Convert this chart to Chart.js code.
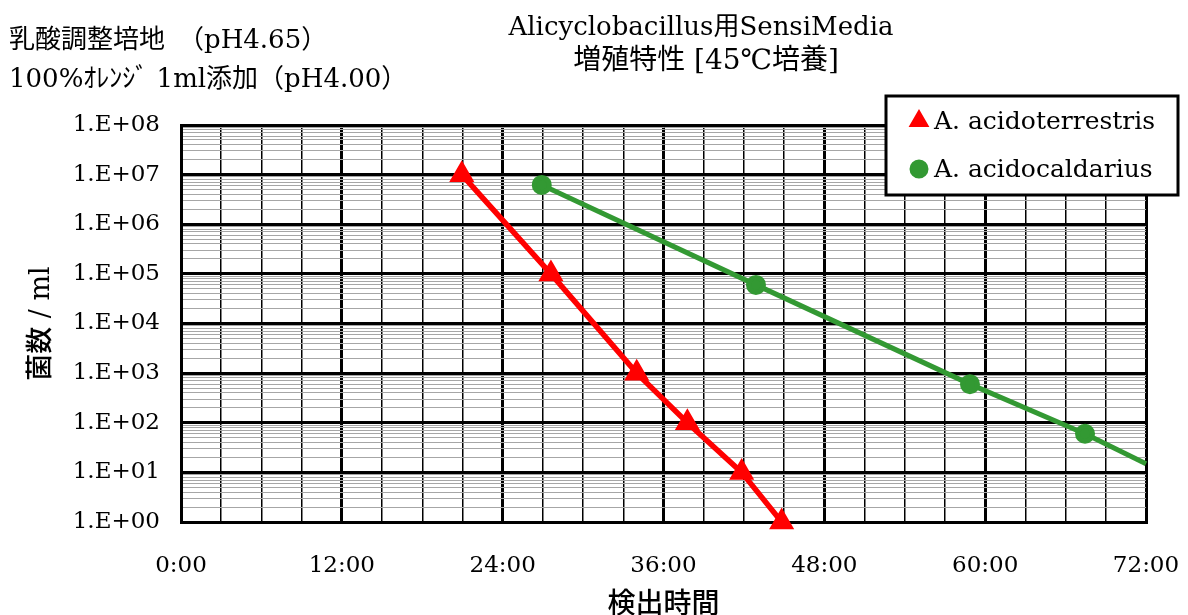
<!DOCTYPE html>
<html lang="ja">
<head>
<meta charset="utf-8">
<title>Alicyclobacillus用SensiMedia 増殖特性</title>
<script src="https://cdn.jsdelivr.net/npm/chart.js@4.4.1/dist/chart.umd.min.js"></script>
<style>
    html, body { margin: 0; padding: 0; background: #fff; }
    canvas { display: block; }
</style>
</head>
<body>
<canvas id="growthChart" width="1188" height="615"></canvas>
<script>
// Detection time (h:mm) and counts per ml
const terrestrisTimes = ['20:57', '27:36', '34:00', '37:47', '41:50', '44:49'];
const terrestrisCounts = [1e7, 1e5, 1e3, 1e2, 1e1, 1e0];

const caldariusTimes = ['26:55', '42:54', '58:52', '67:27'];
const caldariusCounts = [6.2e6, 6.0e4, 6.0e2, 6.0e1];
// green line runs on to the right edge of the plot
const caldariusLineEnd = { time: '72:00', count: 15 };

const seriesLabels = ['A. acidoterrestris', 'A. acidocaldarius'];
const xTickHours = [0, 12, 24, 36, 48, 60, 72];
const yDecades = [0, 1, 2, 3, 4, 5, 6, 7, 8];

const noteLines = ['乳酸調整培地　（pH4.65）', '100%ｵﾚﾝｼﾞ 1ml添加（pH4.00）'];
const titleLines = ['Alicyclobacillus用SensiMedia', '増殖特性 [45℃培養]'];

const SERIF = "'DejaVu Serif', 'Noto Sans CJK JP', serif";
const GOTHIC = "'Noto Sans CJK JP', sans-serif";
const RED = '#ff0000';
const GREEN = '#339933';

/**
 * Converts "h:mm" to decimal hours
 */
function toHours(text) {
    const parts = text.split(':');
    return Number(parts[0]) + Number(parts[1]) / 60;
}

function toPoints(times, counts) {
    return times.map((t, i) => ({ x: toHours(t), y: counts[i] }));
}

function isDecade(value) {
    const e = Math.log10(value);
    return Math.abs(e - Math.round(e)) < 1e-9;
}

// Text above the plot and the boxed legend
const annotationsPlugin = {
    id: 'annotations',
    afterDraw(chart) {
        const ctx = chart.ctx;
        ctx.save();
        ctx.fillStyle = '#000';
        ctx.textBaseline = 'middle';

        // notes, top left
        ctx.textAlign = 'left';
        ctx.font = '26px ' + SERIF;
        ctx.fillText(noteLines[0], 9, 41);
        ctx.fillText(noteLines[1], 9, 80);

        // title, centred over the plot
        ctx.textAlign = 'center';
        ctx.font = '26px ' + SERIF;
        ctx.fillText(titleLines[0], 701, 28);
        ctx.font = '28px ' + SERIF;
        ctx.fillText(titleLines[1], 706, 62);

        // legend box
        const box = { left: 886, top: 96, right: 1178, bottom: 195 };
        ctx.fillStyle = '#fff';
        ctx.fillRect(box.left, box.top, box.right - box.left, box.bottom - box.top);
        ctx.lineWidth = 3;
        ctx.strokeStyle = '#000';
        ctx.strokeRect(box.left, box.top, box.right - box.left, box.bottom - box.top);

        const rows = [121, 169];
        chart.data.datasets.forEach((ds, i) => {
            if (i > 1) return;
            ctx.fillStyle = ds.pointBackgroundColor;
            ctx.strokeStyle = ds.pointBackgroundColor;
            Chart.helpers.drawPoint(ctx, {
                pointStyle: ds.pointStyle,
                radius: i === 0 ? 9 : 8,
                borderWidth: 1,
                rotation: 0
            }, 919, rows[i]);
            ctx.fillStyle = '#000';
            ctx.textAlign = 'left';
            ctx.font = '25px ' + SERIF;
            ctx.fillText(ds.label, 934, rows[i] + 1);
        });
        ctx.restore();
    }
};

const ctx = document.getElementById('growthChart');

new Chart(ctx, {
    type: 'line',
    data: {
        datasets: [
            {
                label: seriesLabels[0],
                data: toPoints(terrestrisTimes, terrestrisCounts),
                borderColor: RED,
                backgroundColor: RED,
                pointBackgroundColor: RED,
                pointBorderColor: RED,
                pointStyle: 'triangle',
                pointRadius: 9,
                borderWidth: 5.5,
                tension: 0,
                clip: false
            },
            {
                label: seriesLabels[1],
                data: toPoints(caldariusTimes, caldariusCounts),
                borderColor: GREEN,
                backgroundColor: GREEN,
                pointBackgroundColor: GREEN,
                pointBorderColor: GREEN,
                pointStyle: 'circle',
                pointRadius: 7.5,
                borderWidth: 5,
                tension: 0,
                clip: false
            },
            {
                label: 'line end',
                data: [
                    { x: toHours(caldariusTimes[caldariusTimes.length - 1]), y: caldariusCounts[caldariusCounts.length - 1] },
                    { x: toHours(caldariusLineEnd.time), y: caldariusLineEnd.count }
                ],
                borderColor: GREEN,
                pointRadius: 0,
                borderWidth: 5,
                tension: 0,
                clip: false
            }
        ]
    },
    options: {
        responsive: false,
        animation: false,
        layout: {
            padding: { top: 125, right: 42, left: 0, bottom: 0 }
        },
        plugins: {
            legend: { display: false },
            title: { display: false },
            tooltip: { enabled: false }
        },
        scales: {
            x: {
                type: 'linear',
                min: 0,
                max: 72,
                afterBuildTicks: scale => {
                    // a grid line every 3 hours
                    const ticks = [];
                    for (let h = xTickHours[0]; h <= xTickHours[xTickHours.length - 1]; h += 3) {
                        ticks.push({ value: h });
                    }
                    scale.ticks = ticks;
                },
                afterFit: scale => {
                    scale.height = 93;
                    scale.paddingLeft = 0;
                    scale.paddingRight = 0;
                },
                ticks: {
                    autoSkip: false,
                    maxRotation: 0,
                    padding: 30,
                    color: '#000',
                    font: { family: SERIF, size: 23 },
                    callback: value => xTickHours.includes(value) ? value + ':00' : ''
                },
                grid: {
                    drawTicks: false,
                    color: '#000',
                    lineWidth: c => (c.tick && c.tick.value % 12 === 0) ? 3 : 1.5
                },
                border: { display: true, color: '#000', width: 3 },
                title: {
                    display: true,
                    text: '検出時間',
                    color: '#000',
                    font: { family: GOTHIC, size: 28, weight: '500', lineHeight: 1 },
                    padding: { top: 0, bottom: -1 }
                }
            },
            y: {
                type: 'logarithmic',
                min: 1,
                max: 1e8,
                afterBuildTicks: scale => {
                    // 1..9 in every decade
                    const ticks = [];
                    yDecades.forEach(d => {
                        const base = Math.pow(10, d);
                        if (d === yDecades[yDecades.length - 1]) {
                            ticks.push({ value: base, major: true });
                            return;
                        }
                        for (let m = 1; m <= 9; m++) {
                            ticks.push({ value: m * base, major: m === 1 });
                        }
                    });
                    scale.ticks = ticks;
                },
                afterFit: scale => {
                    scale.width = 181;
                    scale.paddingTop = 0;
                    scale.paddingBottom = 0;
                },
                ticks: {
                    autoSkip: false,
                    padding: 21,
                    color: '#000',
                    font: { family: SERIF, size: 23 },
                    callback: value => {
                        if (!isDecade(value)) return '';
                        const e = Math.round(Math.log10(value));
                        return '1.E+' + String(e).padStart(2, '0');
                    }
                },
                grid: {
                    drawTicks: false,
                    color: c => (c.tick && isDecade(c.tick.value)) ? '#000' : '#a6a6a6',
                    lineWidth: c => (c.tick && isDecade(c.tick.value)) ? 3 : 1
                },
                border: { display: true, color: '#000', width: 3 },
                title: {
                    display: true,
                    text: '菌数 / ml',
                    color: '#000',
                    font: { family: SERIF, size: 27, weight: '500', lineHeight: 1 },
                    padding: { top: 28, bottom: 0 }
                }
            }
        }
    },
    plugins: [annotationsPlugin]
});
</script>
</body>
</html>
